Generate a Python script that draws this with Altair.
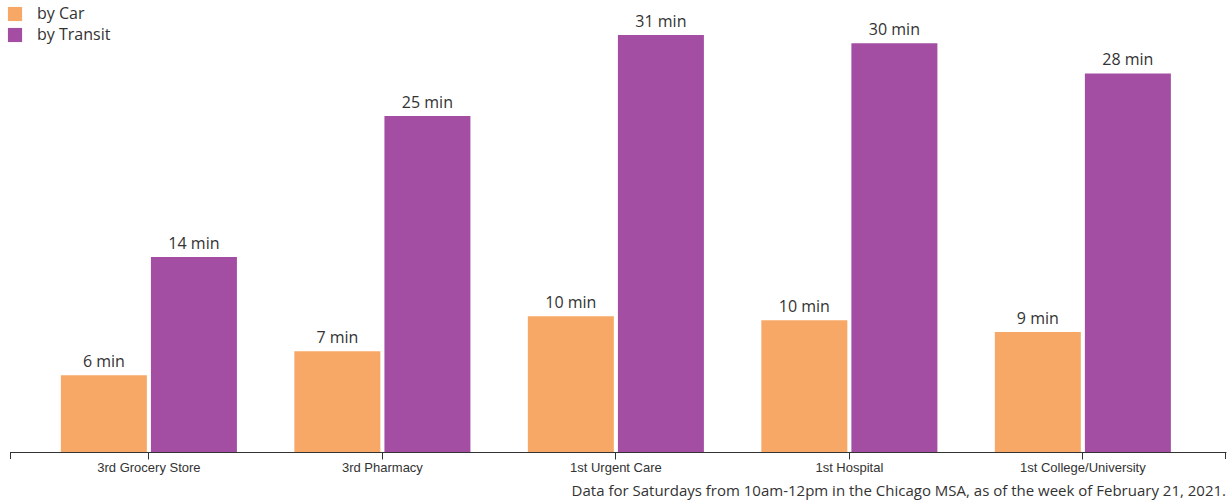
import altair as alt
import pandas as pd

categories = ["3rd Grocery Store", "3rd Pharmacy", "1st Urgent Care", "1st Hospital", "1st College/University"]
modes = ["by Car", "by Transit"]
car = [5.68, 7.46, 10.07, 9.76, 8.89]
transit = [14.45, 24.91, 30.90, 30.30, 28.06]
colors = ["#F7A866", "#A44EA3"]
footnote = "Data for Saturdays from 10am-12pm in the Chicago MSA, as of the week of February 21, 2021."

rows = []
for c, v in zip(categories, car):
    rows.append({"category": c, "mode": modes[0], "value": v})
for c, v in zip(categories, transit):
    rows.append({"category": c, "mode": modes[1], "value": v})
df = pd.DataFrame(rows)

W = 1216
H = 452

base = alt.Chart(df).transform_calculate(
    label="format(round(datum.value), 'd') + ' min'"
).encode(
    x=alt.X("category:N", sort=categories,
            scale=alt.Scale(paddingInner=0.246, paddingOuter=0.227, align=0.48),
            axis=alt.Axis(title=None, labelAngle=0, labelFont="Liberation Sans",
                          labelFontSize=13, labelColor="#333333", labelPadding=2,
                          tickSize=7, tickColor="#333333", domainColor="#333333",
                          tickWidth=1, domainWidth=1, grid=False)),
    xOffset=alt.XOffset("mode:N", sort=modes, scale=alt.Scale(paddingInner=0.045)),
    y=alt.Y("value:Q", scale=alt.Scale(domain=[0, 33.5], nice=False, zero=True), axis=None),
)

bars = base.mark_bar().encode(
    color=alt.Color("mode:N", sort=modes,
                    scale=alt.Scale(domain=modes, range=colors),
                    legend=alt.Legend(title=None, orient="none", legendX=-3, legendY=6,
                                      symbolType="square", symbolSize=200,
                                      symbolStrokeWidth=0, symbolOpacity=1,
                                      labelFont="Open Sans", labelFontSize=16,
                                      labelColor="#333333", rowPadding=5,
                                      padding=0, labelOffset=14))
)

text = base.mark_text(dy=-8, baseline="alphabetic", font="Open Sans",
                      fontSize=16, color="#333333").encode(text="label:N")

edge = pd.DataFrame({"e": [0]})
left_tick = alt.Chart(edge).mark_rule(color="#333333", strokeWidth=1).encode(
    x=alt.value(0.5), y=alt.value(H), y2=alt.value(H + 7))
right_tick = alt.Chart(edge).mark_rule(color="#333333", strokeWidth=1).encode(
    x=alt.value(W - 0.5), y=alt.value(H), y2=alt.value(H + 7))

chart = alt.layer(bars, text, left_tick, right_tick).properties(
    width=W, height=H,
    title=alt.TitleParams(footnote, orient="bottom", anchor="end", font="Open Sans",
                          fontSize=15, fontWeight="normal", color="#333333", offset=10),
    autosize=alt.AutoSizeParams(type="none"),
    padding={"left": 10, "top": 0, "right": 2, "bottom": 50},
).configure_view(stroke=None)

chart.save("out.html", embed_options={"renderer": "svg", "actions": False})
